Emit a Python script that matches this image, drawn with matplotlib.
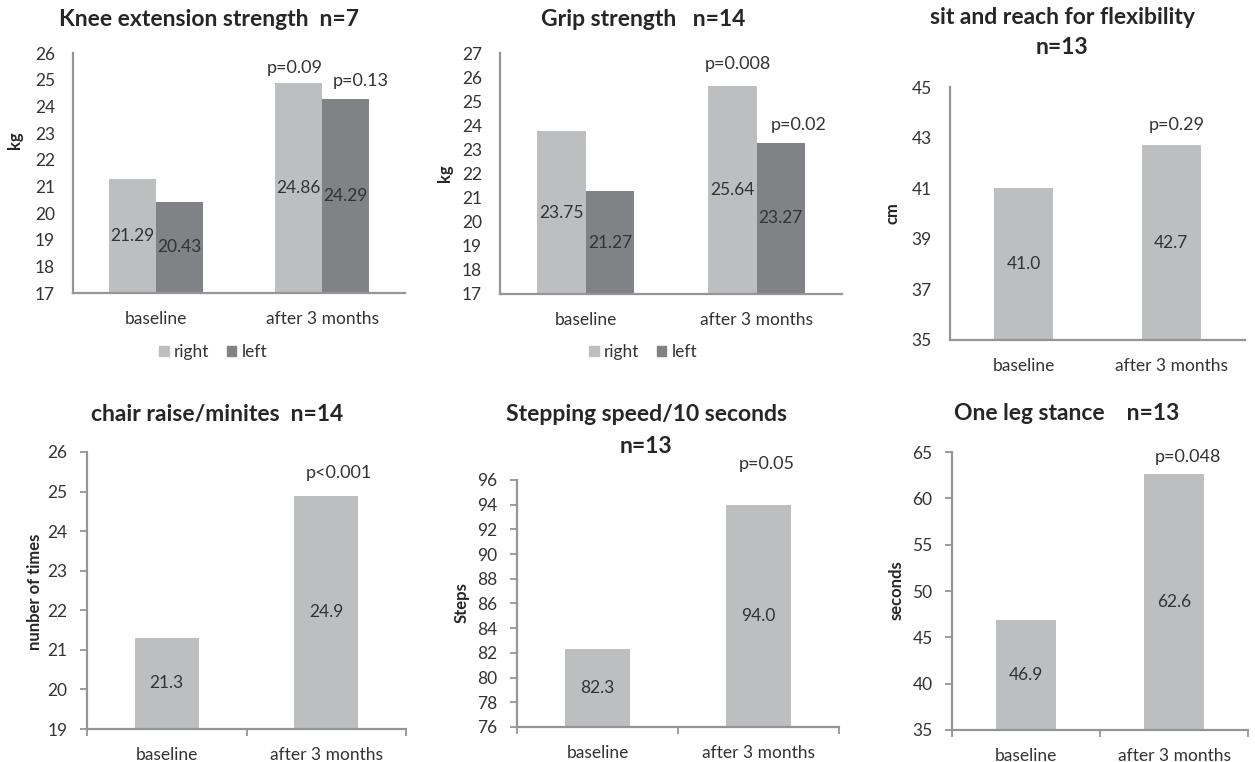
import matplotlib
matplotlib.use("Agg")
import matplotlib.pyplot as plt
from matplotlib.patches import Patch

plt.rcParams['font.family'] = ['Lato', 'DejaVu Sans']

W, H = 1255, 762
# ---------------- data ----------------
categories = ["baseline", "after 3 months"]

knee_right = [21.29, 24.86]
knee_left = [20.43, 24.29]
knee_p = ["", "p=0.09"]
knee_p_left = ["", "p=0.13"]

grip_right = [23.75, 25.64]
grip_left = [21.27, 23.27]
grip_p = ["", "p=0.008"]
grip_p_left = ["", "p=0.02"]

sit_reach = [41.0, 42.7]
sit_p = ["", "p=0.29"]

chair = [21.3, 24.9]
chair_p = ["", "p<0.001"]

stepping = [82.3, 94.0]
step_p = ["", "p=0.05"]

one_leg = [46.9, 62.6]
leg_p = ["", "p=0.048"]

LIGHT = "#BDBEC0"
DARK = "#808285"
AX = "#939598"
TXT = "#333333"
TTL = "#262626"

TICK_FS = 12.5
VAL_FS = 12.5
P_FS = 13
TITLE_FS = 16.5
YLAB_FS = 12

fig = plt.figure(figsize=(W / 100, H / 100), dpi=100)
fig.patch.set_facecolor("white")


def rect(x0, yt, x1, yb):
    return [x0 / W, 1 - yb / H, (x1 - x0) / W, (yb - yt) / H]


def style(ax, ylim, yticks, ticks_on):
    ax.set_xlim(-0.5, 1.5)
    ax.set_ylim(*ylim)
    ax.set_yticks(yticks)
    ax.set_xticks([0, 1])
    ax.set_xticklabels(categories)
    for s in ["top", "right"]:
        ax.spines[s].set_visible(False)
    for s in ["left", "bottom"]:
        ax.spines[s].set_color(AX)
        ax.spines[s].set_linewidth(1.6)
    if ticks_on:
        ax.set_xticks([-0.5, 0.5, 1.5], minor=True)
        ax.tick_params(axis='x', which='minor', length=5, width=1.3, color=AX, direction='out')
        ax.tick_params(axis='x', which='major', length=0, pad=13)
        ax.tick_params(axis='y', length=5, width=1.3, color=AX, pad=9)
    else:
        ax.tick_params(axis='x', length=0, pad=13)
        ax.tick_params(axis='y', length=0, pad=13)
    ax.tick_params(labelsize=TICK_FS, labelcolor=TXT)


def mid_labels(ax, xs, vals, bottom, fmt):
    for x, v in zip(xs, vals):
        ax.text(x, (v + bottom) / 2, fmt.format(v), ha='center', va='center',
                fontsize=VAL_FS, color=TXT)


def p_labels(ax, xs, vals, texts, dx, dy):
    for x, v, t in zip(xs, vals, texts):
        if t:
            ax.annotate(t, (x, v), xytext=(dx, dy), textcoords='offset pixels',
                        ha='center', va='bottom', fontsize=P_FS, color=TXT)


def title(x, y, s):
    fig.text(x / W, 1 - y / H, s, ha='center', va='center', fontsize=TITLE_FS,
             fontweight='bold', color=TTL)


def ylab(x, y, s):
    fig.text(x / W, 1 - y / H, s, ha='center', va='center', rotation=90,
             fontsize=YLAB_FS, fontweight='bold', color=TTL)


def legend(ax, cx, cy):
    ax.legend(handles=[Patch(color=LIGHT, label="right"), Patch(color=DARK, label="left")],
              loc='center', bbox_to_anchor=(cx / W, 1 - cy / H), bbox_transform=fig.transFigure,
              ncol=2, frameon=False, fontsize=TICK_FS, handlelength=0.55, handleheight=0.55,
              handletextpad=0.3, columnspacing=1.0, labelcolor=TXT)


xs = [0, 1]
bw2 = 0.285
bw1 = 0.40
xr = [x - bw2 / 2 for x in xs]
xl = [x + bw2 / 2 for x in xs]

# ---- Panel 1: knee ----
ax1 = fig.add_axes(rect(73, 53, 405, 293))
style(ax1, (17, 26), range(17, 27), False)
ax1.bar(xr, [v - 17 for v in knee_right], bw2, bottom=17, color=LIGHT)
ax1.bar(xl, [v - 17 for v in knee_left], bw2, bottom=17, color=DARK)
mid_labels(ax1, xr, knee_right, 17, "{:.2f}")
mid_labels(ax1, xl, knee_left, 17, "{:.2f}")
p_labels(ax1, xr, knee_right, knee_p, -4, 7)
p_labels(ax1, xl, knee_left, knee_p_left, 15, 10)
title(209, 20, "Knee extension strength  n=7")
ylab(15, 140, "kg")
legend(ax1, 213, 352)

# ---- Panel 2: grip ----
ax2 = fig.add_axes(rect(500, 53, 842, 294))
style(ax2, (17, 27), range(17, 28), False)
ax2.bar(xr, [v - 17 for v in grip_right], bw2, bottom=17, color=LIGHT)
ax2.bar(xl, [v - 17 for v in grip_left], bw2, bottom=17, color=DARK)
mid_labels(ax2, xr, grip_right, 17, "{:.2f}")
mid_labels(ax2, xl, grip_left, 17, "{:.2f}")
p_labels(ax2, xr, grip_right, grip_p, 6, 14)
p_labels(ax2, xl, grip_left, grip_p_left, 18, 10)
title(643, 20, "Grip strength   n=14")
ylab(445, 173, "kg")
legend(ax2, 643, 352)

# ---- Panel 3: sit and reach ----
ax3 = fig.add_axes(rect(950, 87, 1245, 340))
style(ax3, (35, 45), range(35, 46, 2), False)
ax3.bar(xs, [v - 35 for v in sit_reach], bw1, bottom=35, color=LIGHT)
mid_labels(ax3, xs, sit_reach, 35, "{:.1f}")
p_labels(ax3, xs, sit_reach, sit_p, 6, 12)
title(1062, 18, "sit and reach for flexibility")
title(1062, 47, "n=13")
ylab(893, 213, "cm")

# ---- Panel 4: chair ----
ax4 = fig.add_axes(rect(87, 452, 406, 729))
style(ax4, (19, 26), range(19, 27), True)
ax4.bar(xs, [v - 19 for v in chair], bw1, bottom=19, color=LIGHT)
mid_labels(ax4, xs, chair, 19, "{:.1f}")
p_labels(ax4, xs, chair, chair_p, 13, 15)
title(217, 414, "chair raise/minites  n=14")
ylab(35, 592, "nunber of times")

# ---- Panel 5: stepping ----
ax5 = fig.add_axes(rect(517, 480, 839, 727))
style(ax5, (76, 96), range(76, 97, 2), True)
ax5.bar(xs, [v - 76 for v in stepping], bw1, bottom=76, color=LIGHT)
mid_labels(ax5, xs, stepping, 76, "{:.1f}")
p_labels(ax5, xs, stepping, step_p, 8, 33)
title(646, 415, "Stepping speed/10 seconds")
title(646, 447, "n=13")
ylab(462, 603, "Steps")

# ---- Panel 6: one leg ----
ax6 = fig.add_axes(rect(952, 452, 1248, 730))
style(ax6, (35, 65), range(35, 66, 5), True)
ax6.bar(xs, [v - 35 for v in one_leg], bw1, bottom=35, color=LIGHT)
mid_labels(ax6, xs, one_leg, 35, "{:.1f}")
p_labels(ax6, xs, one_leg, leg_p, 14, 9)
title(1067, 414, "One leg stance    n=13")
ylab(897, 590, "seconds")

fig.savefig("out.png", dpi=100, facecolor="white")
